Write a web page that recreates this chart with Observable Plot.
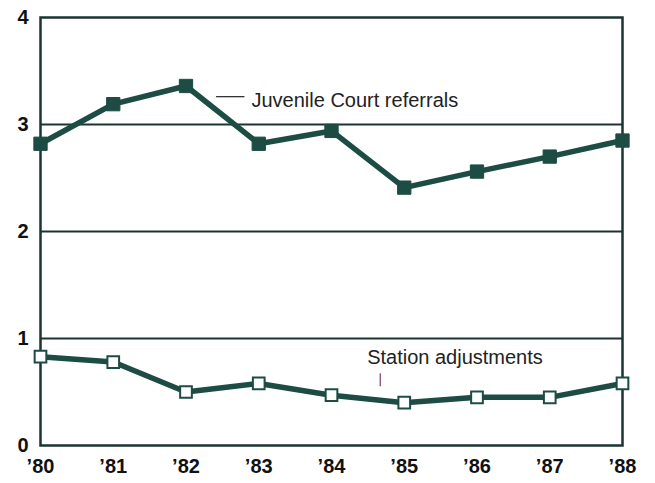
<!DOCTYPE html>
<html>
<head>
<meta charset="utf-8">
<script src="https://cdn.jsdelivr.net/npm/d3@7"></script>
<script src="https://cdn.jsdelivr.net/npm/@observablehq/plot@0.6"></script>
<style>
  html, body { margin: 0; padding: 0; background: #fff; }
  #chart svg { display: block; }
</style>
</head>
<body>
<div id="chart"></div>
<script>
const years = [1980, 1981, 1982, 1983, 1984, 1985, 1986, 1987, 1988];
const juvenileReferrals = [2.82, 3.19, 3.36, 2.82, 2.94, 2.41, 2.56, 2.70, 2.85];
const stationAdjustments = [0.83, 0.78, 0.50, 0.58, 0.47, 0.40, 0.45, 0.45, 0.58];
const yTicks = [0, 1, 2, 3, 4];
const yTickLabels = ["0", "1", "2", "3", "4"];
const gridValues = [1, 2, 3];
const xTickLabels = ["’80", "’81", "’82", "’83", "’84", "’85", "’86", "’87", "’88"];

// annotations (data coordinates)
const juvLabel = [{x: 1982.9, y: 3.22, text: "Juvenile Court referrals"}];
const juvLeader = [{x1: 1982.42, x2: 1982.81, y: 3.26}];
const staLabel = [{x: 1984.49, y: 0.82, text: "Station adjustments"}];
const staLeader = [{x: 1984.67, y1: 0.67, y2: 0.55}];

const juv = years.map((x, i) => ({x, y: juvenileReferrals[i]}));
const sta = years.map((x, i) => ({x, y: stationAdjustments[i]}));

const green = "#1d4c44";
const gridColor = "#1a3531";

const chart = Plot.plot({
  width: 655,
  height: 483,
  marginLeft: 40,
  marginRight: 33,
  marginTop: 17,
  marginBottom: 38,
  style: {fontFamily: "Liberation Sans, Arial, sans-serif", background: "#fff", color: "#1a1a1a"},
  x: {domain: [1980, 1988], label: null},
  y: {domain: [0, 4], label: null},
  marks: [
    Plot.ruleY(gridValues, {stroke: gridColor, strokeWidth: 2}),
    Plot.frame({stroke: gridColor, strokeWidth: 2.5}),
    Plot.line(juv, {x: "x", y: "y", stroke: green, strokeWidth: 5.5}),
    Plot.line(sta, {x: "x", y: "y", stroke: green, strokeWidth: 5.5}),
    Plot.dot(juv, {x: "x", y: "y", symbol: "square", r: 7.5, fill: green, stroke: green, strokeWidth: 1}),
    Plot.dot(sta, {x: "x", y: "y", symbol: "square", r: 6.6, fill: "#fff", stroke: green, strokeWidth: 2}),
    Plot.ruleY(juvLeader, {x1: "x1", x2: "x2", y: "y", stroke: "#222", strokeWidth: 1.2}),
    Plot.text(juvLabel, {x: "x", y: "y", text: "text", textAnchor: "start", fontSize: 20, fill: "#222"}),
    Plot.ruleX(staLeader, {x: "x", y1: "y1", y2: "y2", stroke: "#7a3a6a", strokeWidth: 1.2}),
    Plot.text(staLabel, {x: "x", y: "y", text: "text", textAnchor: "start", fontSize: 20, fill: "#222"}),
    Plot.axisX({ticks: years, tickFormat: (d) => xTickLabels[years.indexOf(d)], tickSize: 0, tickPadding: 13, fontSize: 20, fontWeight: "bold", fill: "#111", label: null}),
    Plot.axisY({ticks: yTicks, tickFormat: (d) => yTickLabels[yTicks.indexOf(d)], tickSize: 0, tickPadding: 12, fontSize: 20, fontWeight: "bold", fill: "#111", label: null})
  ]
});
document.getElementById("chart").appendChild(chart);
</script>
</body>
</html>
